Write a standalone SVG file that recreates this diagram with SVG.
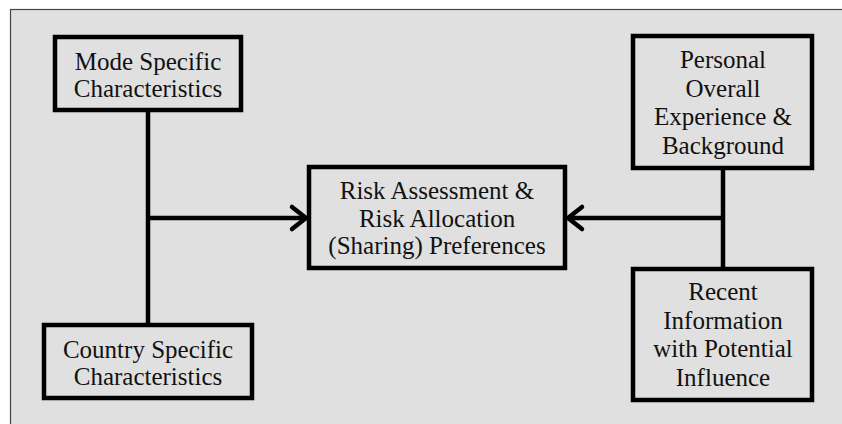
<svg xmlns="http://www.w3.org/2000/svg" width="842" height="424" viewBox="0 0 842 424">
<style>
.box{fill:#e0e0e0;stroke:#000;stroke-width:4.5}
.ln{fill:none;stroke:#000;stroke-width:4.5;stroke-linecap:butt}
.ah{fill:none;stroke:#000;stroke-width:4.5;stroke-linecap:round;stroke-linejoin:miter}
text{font-family:"Liberation Serif","Times New Roman",serif;font-size:25px;fill:#111;text-anchor:middle}
</style>
<rect x="0" y="0" width="842" height="424" fill="#fff"/>
<rect x="10.5" y="9.5" width="850" height="430" fill="#e0e0e0" stroke="#444" stroke-width="1.2"/>
<g id="connectors">
<line class="ln" x1="148" y1="110" x2="148" y2="325"/>
<line class="ln" x1="148" y1="218" x2="305" y2="218"/>
<polyline class="ah" points="292,207 306,218 292,229"/>
<line class="ln" x1="723" y1="168" x2="723" y2="269"/>
<line class="ln" x1="723" y1="218" x2="568" y2="218"/>
<polyline class="ah" points="582,207 568,218 582,229"/>
</g>
<g id="mode">
<rect class="box" x="55" y="37" width="186" height="73"/>
<text x="148" y="70">Mode Specific</text>
<text x="148" y="97">Characteristics</text>
</g>
<g id="country">
<rect class="box" x="44" y="325" width="208" height="73"/>
<text x="148" y="358">Country Specific</text>
<text x="148" y="385">Characteristics</text>
</g>
<g id="risk">
<rect class="box" x="309" y="167" width="256" height="101"/>
<text x="437" y="199">Risk Assessment &amp;</text>
<text x="437" y="227">Risk Allocation</text>
<text x="437" y="254">(Sharing) Preferences</text>
</g>
<g id="personal">
<rect class="box" x="633" y="36" width="179" height="132"/>
<text x="723" y="68">Personal</text>
<text x="723" y="97">Overall</text>
<text x="723" y="125">Experience &amp;</text>
<text x="723" y="154">Background</text>
</g>
<g id="recent">
<rect class="box" x="633" y="269" width="179" height="131"/>
<text x="723" y="300">Recent</text>
<text x="723" y="329">Information</text>
<text x="723" y="357">with Potential</text>
<text x="723" y="386">Influence</text>
</g>
</svg>
